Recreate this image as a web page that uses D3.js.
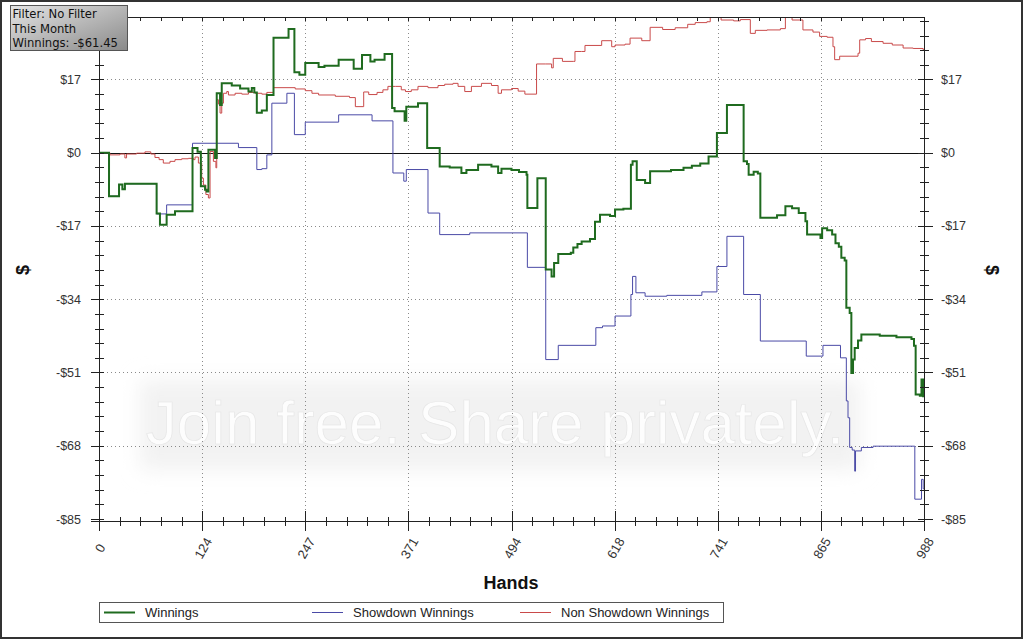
<!DOCTYPE html>
<html>
<head>
<meta charset="utf-8">
<script src="https://cdn.jsdelivr.net/npm/d3@7/dist/d3.min.js"></script>
<style>
  html, body { margin: 0; padding: 0; background: #fff; }
  svg { display: block; }
</style>
</head>
<body>
<svg id="chart" width="1023" height="639"></svg>
<script>
// ---------- DATA ----------
const xTickValues = [0, 123.5, 247, 370.5, 494, 617.5, 741, 864.5, 988];
const xTickLabels = ["0", "124", "247", "371", "494", "618", "741", "865", "988"];
const yTickValues = [-85, -68, -51, -34, -17, 0, 17];
const yTickLabels = ["-$85", "-$68", "-$51", "-$34", "-$17", "$0", "$17"];
const seriesNames = ["Winnings", "Showdown Winnings", "Non Showdown Winnings"];
const infoLines = ["Filter: No Filter", "This Month", "Winnings: -$61.45"];

// [hand, dollars]
const winnings = [[0,0],[12,-10.1],[24,-7.4],[28,-8.5],[31,-7.2],[69,-14.1],[73,-16.7],[81,-14.4],[91,-13.6],[112,1.1],[118,0.2],[122,-7.8],[127,-8.6],[129,-9.0],[131,0.7],[139,-1.2],[141,13.8],[145,11.1],[147,16.1],[159,15.6],[169,14.9],[179,14.2],[183,15.0],[186,14.0],[189,9.3],[195,9.8],[201,13.4],[209,26.7],[227,28.7],[234,18.7],[240,18.1],[247,20.8],[263,19.9],[270,20.2],[287,21.6],[305,19.5],[315,22.7],[325,21.2],[330,21.6],[342,22.9],[351,10.4],[354,9.6],[366,7.4],[368,10.7],[382,11.5],[393,1.1],[408,-3.2],[420,-3.4],[434,-4.7],[440,-4.0],[454,-2.8],[470,-3.2],[478,-4.7],[482,-3.7],[494,-4.0],[503,-4.5],[512,-5.1],[513,-12.8],[525,-5.9],[535,-27.1],[542,-28.7],[545,-25.6],[550,-23.5],[565,-23.2],[568,-22.0],[573,-21.2],[578,-20.6],[588,-20.0],[594,-16.0],[600,-14.4],[612,-14.7],[618,-13.2],[628,-13.0],[637,-2.8],[639,-2.0],[644,-6.3],[654,-7.0],[660,-4.3],[685,-4.0],[700,-3.5],[710,-3.0],[720,-2.5],[730,-0.9],[740,4.6],[752,11.1],[772,-2.0],[776,-2.6],[778,-5.1],[784,-4.4],[789,-4.8],[792,-15.1],[808,-15.1],[812,-14.5],[822,-12.4],[830,-12.9],[838,-14.0],[846,-15.9],[848,-19.0],[860,-19.0],[864,-19.8],[866,-17.5],[872,-18.0],[878,-19.0],[882,-21.0],[886,-21.8],[889,-24.4],[893,-25.0],[895,-36.0],[899,-37.2],[901,-51.1],[903,-48.0],[905,-45.3],[909,-43.6],[913,-42.2],[935,-42.5],[955,-42.8],[973,-43.2],[976,-44.8],[978,-56.1],[983,-56.4],[985,-52.6],[987,-56.5],[988,-56.5]];

const showdown = [[0,0],[12,-10.1],[24,-7.4],[28,-8.5],[31,-7.2],[69,-14.2],[81,-12.1],[112,2.2],[167,1.2],[189,-3.9],[195,-3.7],[201,-0.5],[207,11.5],[225,13.8],[234,4.2],[247,7.1],[287,8.8],[327,7.4],[352,-4.7],[365,-6.6],[368,-3.9],[394,-14.0],[408,-19.0],[444,-18.6],[513,-26.6],[535,-48.0],[550,-44.7],[595,-40.6],[603,-40.2],[618,-37.9],[637,-32.9],[639,-28.7],[643,-32.5],[654,-33.3],[680,-33.1],[722,-32.3],[740,-26.4],[752,-19.4],[772,-32.9],[792,-43.7],[847,-47.2],[867,-44.7],[888,-47.6],[895,-57.6],[897,-61.5],[899,-68.4],[902,-69.0],[905,-73.9],[906,-69.2],[913,-68.4],[927,-68.1],[977,-80.4],[985,-75.8],[987,-78.0],[988,-78.0]];

const nonShowdown = [[0,0],[13,-0.5],[25,-0.3],[31,-1.2],[33,-0.3],[45,-0.1],[55,0.2],[62,-0.3],[67,-1.1],[72,-1.6],[77,-2.4],[85,-2.0],[91,-1.6],[99,-1.4],[107,-1.3],[113,-1.6],[115,-1.0],[119,-2.4],[123,-5.9],[125,-7.5],[128,-9.7],[131,-10.5],[133,0.3],[137,-2.0],[140,-3.5],[141,12.3],[143,11.3],[145,9.2],[147,11.5],[149,13.8],[153,14.2],[155,13.4],[163,13.8],[171,13.6],[179,14.0],[187,13.8],[195,13.6],[201,14.0],[209,15.1],[235,14.8],[247,14.4],[255,13.8],[263,13.4],[283,13.1],[300,12.8],[307,10.7],[317,14.1],[323,13.5],[333,14.0],[340,14.6],[346,15.4],[355,15.4],[362,14.6],[367,14.2],[374,14.6],[382,15.4],[394,15.1],[406,15.6],[414,15.9],[424,16.1],[430,15.4],[438,14.2],[446,15.4],[458,16.1],[470,15.6],[478,13.8],[482,14.6],[494,14.9],[502,14.3],[510,13.6],[524,20.6],[535,20.6],[542,19.7],[544,21.9],[555,21.2],[568,21.2],[570,23.5],[578,23.5],[582,24.9],[602,26.0],[612,26.0],[614,24.6],[618,25.0],[630,25.2],[636,26.6],[650,26.0],[660,29.1],[675,28.6],[690,29.0],[705,29.8],[714,30.2],[728,30.4],[732,31.5],[745,30.8],[760,30.6],[768,30.9],[780,27.7],[786,28.4],[800,28.5],[816,28.8],[822,31.5],[830,30.8],[843,28.5],[855,28.0],[863,27.0],[872,26.8],[879,24.6],[881,21.6],[887,22.4],[909,23.1],[911,26.2],[918,26.5],[925,25.8],[939,25.4],[950,25.0],[963,24.3],[975,24.2],[987,23.9],[988,23.9]];

const seriesColors = ["#1f6b1f", "#4a4aa6", "#c94a4a"];
const seriesWidths = [2, 1, 1];

// ---------- LAYOUT ----------
const svg = d3.select("#chart");
const W = 1023, H = 639;
const L = 99, R = 924, T = 17, B = 519;
const x = d3.scaleLinear().domain([0, 988]).range([L, R]);
const y = d3.scaleLinear().domain([-85, 31.5]).range([B, T]);
const font = "'Liberation Sans', Arial, sans-serif";

svg.append("rect").attr("x", 0).attr("y", 0).attr("width", W).attr("height", H).attr("fill", "#fff");

// faint watermark band
const defs = svg.append("defs");
defs.append("filter").attr("id", "soft").attr("x", "-10%").attr("y", "-40%").attr("width", "120%").attr("height", "180%")
  .append("feGaussianBlur").attr("stdDeviation", 10);
svg.append("rect").attr("x", 140).attr("y", 380).attr("width", 720).attr("height", 90)
  .attr("fill", "#f2f2f2").attr("filter", "url(#soft)");
svg.append("text").attr("x", 495).attr("y", 444).attr("text-anchor", "middle")
  .attr("font-family", "'Liberation Sans', Arial, sans-serif").attr("font-size", 62)
  .attr("fill", "#fdfdfd").attr("stroke", "#e6e6e6").attr("stroke-width", 0.7)
  .text("Join free. Share privately.");

// grid (dotted)
const grid = svg.append("g").attr("stroke", "#8a8a8a").attr("stroke-width", 1).attr("stroke-dasharray", "1,3");
grid.selectAll("line.v").data(xTickValues.slice(1, -1)).enter().append("line")
  .attr("x1", d => Math.round(x(d)) + 0.5).attr("x2", d => Math.round(x(d)) + 0.5)
  .attr("y1", T).attr("y2", B);
grid.selectAll("line.h").data(yTickValues.filter(v => v !== 0 && v !== -85)).enter().append("line")
  .attr("x1", L).attr("x2", R)
  .attr("y1", d => Math.round(y(d)) + 0.5).attr("y2", d => Math.round(y(d)) + 0.5);

// zero line
svg.append("line").attr("x1", L).attr("x2", R + 6).attr("y1", Math.round(y(0)) + 0.5).attr("y2", Math.round(y(0)) + 0.5)
  .attr("stroke", "#111").attr("stroke-width", 1);

// series
svg.append("clipPath").attr("id", "plotclip").append("rect").attr("x", L).attr("y", T).attr("width", R - L).attr("height", B - T);
const line = d3.line().x(d => x(d[0])).y(d => y(d[1])).curve(d3.curveStepAfter);
const allSeries = [nonShowdown, showdown, winnings];
const order = [2, 1, 0];
const plot = svg.append("g").attr("clip-path", "url(#plotclip)");
allSeries.forEach((s, i) => {
  const k = order[i];
  plot.append("path").datum(s).attr("d", line).attr("fill", "none")
    .attr("stroke", seriesColors[k]).attr("stroke-width", seriesWidths[k])
    .attr("stroke-linejoin", "miter");
});

// axes
const minorX = d3.range(0, 988.01, 988 / 40);
const minorY = d3.range(-85, 31.6, 3.4);
const ax = svg.append("g").attr("stroke", "#222").attr("stroke-width", 1);
ax.append("line").attr("x1", L - 8).attr("x2", R).attr("y1", B + 2.5).attr("y2", B + 2.5);
ax.selectAll("line.bm").data(minorX).enter().append("line")
  .attr("x1", d => Math.round(x(d)) + 0.5).attr("x2", d => Math.round(x(d)) + 0.5)
  .attr("y1", B - 2).attr("y2", B + 7);
ax.selectAll("line.bM").data(xTickValues).enter().append("line")
  .attr("x1", d => Math.round(x(d)) + 0.5).attr("x2", d => Math.round(x(d)) + 0.5)
  .attr("y1", B - 8).attr("y2", B + 12);
ax.append("line").attr("x1", L).attr("x2", R + 1).attr("y1", T + 0.5).attr("y2", T + 0.5);
ax.selectAll("line.tm").data(minorX).enter().append("line")
  .attr("x1", d => Math.round(x(d)) + 0.5).attr("x2", d => Math.round(x(d)) + 0.5)
  .attr("y1", T).attr("y2", T + 4);
ax.append("line").attr("x1", L + 0.5).attr("x2", L + 0.5).attr("y1", T).attr("y2", B + 12);
ax.selectAll("line.lm").data(minorY).enter().append("line")
  .attr("x1", L - 4).attr("x2", L + 5)
  .attr("y1", d => Math.round(y(d)) + 0.5).attr("y2", d => Math.round(y(d)) + 0.5);
ax.selectAll("line.lM").data(yTickValues).enter().append("line")
  .attr("x1", L - 8).attr("x2", L + 5)
  .attr("y1", d => Math.round(y(d)) + 0.5).attr("y2", d => Math.round(y(d)) + 0.5);
ax.append("line").attr("x1", R + 0.5).attr("x2", R + 0.5).attr("y1", T).attr("y2", B + 12);
ax.selectAll("line.rm").data(minorY).enter().append("line")
  .attr("x1", R - 4).attr("x2", R + 5)
  .attr("y1", d => Math.round(y(d)) + 0.5).attr("y2", d => Math.round(y(d)) + 0.5);
ax.selectAll("line.rM").data(yTickValues).enter().append("line")
  .attr("x1", R - 6).attr("x2", R + 9)
  .attr("y1", d => Math.round(y(d)) + 0.5).attr("y2", d => Math.round(y(d)) + 0.5);

// tick labels
const lab = svg.append("g").attr("font-family", font).attr("font-size", 12.5).attr("fill", "#333");
lab.selectAll("text.yl").data(yTickValues).enter().append("text")
  .attr("x", 81).attr("y", d => y(d) + 4.5).attr("text-anchor", "end")
  .text((d, i) => yTickLabels[i]);
lab.selectAll("text.yr").data(yTickValues).enter().append("text")
  .attr("x", 941).attr("y", d => y(d) + 4.5).attr("text-anchor", "start")
  .text((d, i) => yTickLabels[i]);
lab.selectAll("text.xl").data(xTickValues).enter().append("text")
  .attr("transform", d => `translate(${x(d) + 1},${548}) rotate(-60)`)
  .attr("text-anchor", "middle").attr("dy", "0.35em").attr("font-size", 13)
  .text((d, i) => xTickLabels[i]);

// axis titles
svg.append("text").attr("x", 511).attr("y", 589).attr("text-anchor", "middle")
  .attr("font-family", font).attr("font-weight", "bold").attr("font-size", 18).attr("fill", "#111").text("Hands");
svg.append("text").attr("transform", "translate(29,270) rotate(-90)").attr("text-anchor", "middle")
  .attr("font-family", font).attr("font-weight", "bold").attr("font-size", 18).attr("fill", "#111").text("$");
svg.append("text").attr("transform", "translate(986,270) rotate(90)").attr("text-anchor", "middle")
  .attr("font-family", font).attr("font-weight", "bold").attr("font-size", 18).attr("fill", "#111").text("$");

// legend
const lg = svg.append("g");
lg.append("rect").attr("x", 99.5).attr("y", 602.5).attr("width", 624).attr("height", 20)
  .attr("fill", "#fff").attr("stroke", "#555").attr("stroke-width", 1);
const legX = [104, 312, 520];
seriesNames.forEach((n, i) => {
  lg.append("line").attr("x1", legX[i]).attr("x2", legX[i] + 31).attr("y1", 612.5).attr("y2", 612.5)
    .attr("stroke", seriesColors[i]).attr("stroke-width", seriesWidths[i]);
  lg.append("text").attr("x", legX[i] + 41).attr("y", 617).attr("font-family", font)
    .attr("font-size", 13).attr("fill", "#222").text(n);
});

// info box
const ig = defs.append("linearGradient").attr("id", "infoGrad").attr("x1", 0).attr("y1", 0).attr("x2", 1).attr("y2", 1);
ig.append("stop").attr("offset", "0%").attr("stop-color", "#e4e4e4");
ig.append("stop").attr("offset", "100%").attr("stop-color", "#8a8a8a");
svg.append("rect").attr("x", 10.5).attr("y", 5.5).attr("width", 117).attr("height", 45)
  .attr("fill", "url(#infoGrad)").attr("stroke", "#555").attr("stroke-width", 1);
svg.selectAll("text.info").data(infoLines).enter().append("text")
  .attr("x", 12.5).attr("y", (d, i) => 18.3 + i * 14.2)
  .attr("font-family", "'DejaVu Sans', Verdana, sans-serif").attr("font-size", 11.6).attr("fill", "#111")
  .text(d => d);

// outer frame
svg.append("rect").attr("x", 1).attr("y", 1).attr("width", W - 2).attr("height", H - 2)
  .attr("fill", "none").attr("stroke", "#333").attr("stroke-width", 2);
</script>
</body>
</html>
